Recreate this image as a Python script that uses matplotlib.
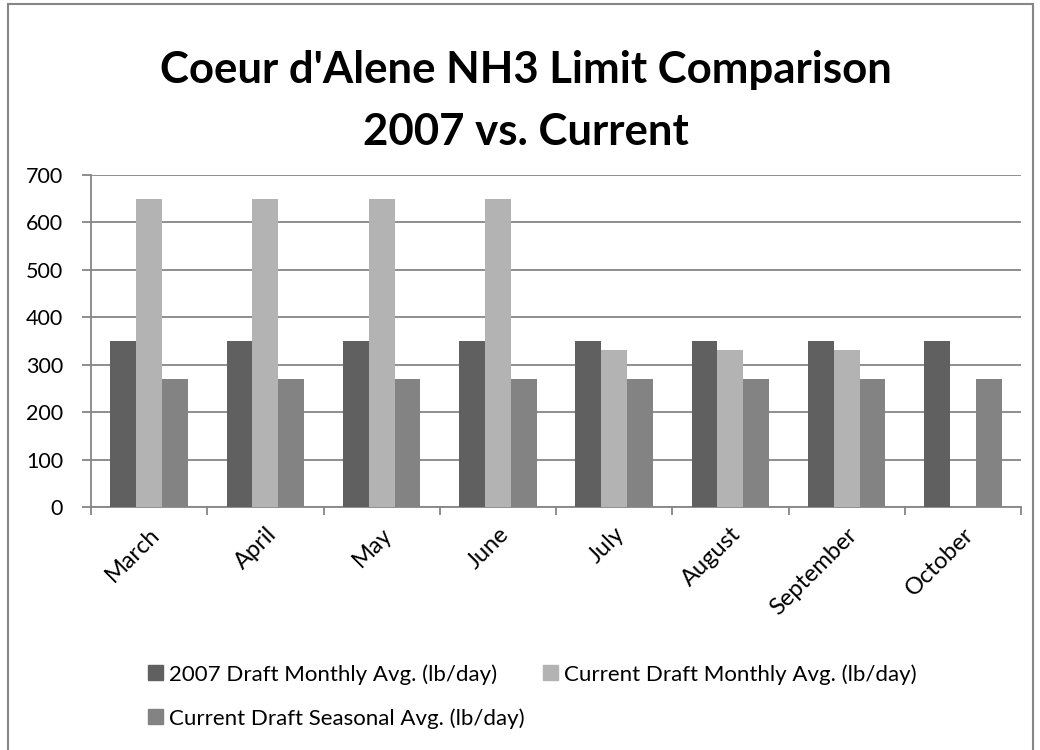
import matplotlib.pyplot as plt
import numpy as np
from matplotlib.patches import Rectangle, Patch
from matplotlib.transforms import ScaledTranslation

plt.rcParams['font.family'] = ['Lato', 'DejaVu Sans']

months = ["March", "April", "May", "June", "July", "August", "September", "October"]
draft_2007 = [350, 350, 350, 350, 350, 350, 350, 350]
current_monthly = [650, 650, 650, 650, 330, 330, 330, 0]
current_seasonal = [270, 270, 270, 270, 270, 270, 270, 270]
series_names = ["2007 Draft Monthly Avg. (lb/day)",
                "Current Draft Monthly Avg. (lb/day)",
                "Current Draft Seasonal Avg. (lb/day)"]
colors = ["#606060", "#b3b3b3", "#838383"]

W, H = 1040, 750
fig = plt.figure(figsize=(W / 100, H / 100), dpi=100)
ax = fig.add_axes([91 / W, 1 - 507 / H, (1021 - 91) / W, (507 - 175) / H])

# outer chart border
fig.patches.append(Rectangle((8 / W, -0.02), (1033 - 8) / W, 1 - 4 / H + 0.02,
                             transform=fig.transFigure, fill=False,
                             edgecolor="#868686", linewidth=1.5))

x = np.arange(len(months))
bw = 1 / 4.5
for i, vals in enumerate([draft_2007, current_monthly, current_seasonal]):
    ax.bar(x + (i - 1) * bw, vals, width=bw, color=colors[i], zorder=3)

ax.set_xlim(-0.5, len(months) - 0.5)
ax.set_ylim(0, 700)
ax.set_yticks(range(0, 701, 100))
ax.yaxis.grid(True, color="#868686", linewidth=1.3, zorder=0)
ax.set_xticks(np.arange(-0.5, len(months), 1))
ax.set_xticklabels([])
ax.set_xticks(x, minor=True)
ax.set_xticklabels(months, minor=True, rotation=45, ha="right",
                   rotation_mode="anchor", fontsize=17)
off = ScaledTranslation(-4 / 100, -4 / 100, fig.dpi_scale_trans)
for lbl in ax.get_xticklabels(minor=True):
    lbl.set_transform(lbl.get_transform() + off)
ax.tick_params(axis="x", which="minor", length=0, pad=12)
ax.tick_params(axis="x", which="major", length=6, color="#868686", width=1.3)
ax.tick_params(axis="y", length=6.5, color="#868686", width=1.3, labelsize=15.5, pad=13.5)
for s in ["top", "right"]:
    ax.spines[s].set_visible(False)
for s in ["left", "bottom"]:
    ax.spines[s].set_color("#868686")
    ax.spines[s].set_linewidth(1.3)

fig.text(0.506, 1 - 70 / H, "Coeur d'Alene NH3 Limit Comparison", ha="center",
         va="center", fontsize=31.5, fontweight="bold")
fig.text(0.506, 1 - 132 / H, "2007 vs. Current", ha="center",
         va="center", fontsize=31.5, fontweight="bold")

handles = [Patch(color=c) for c in colors]
order = [0, 2, 1]
fig.legend([handles[i] for i in order], [series_names[i] for i in order],
           ncol=2, loc="upper left", bbox_to_anchor=(148 / W, 1 - 664 / H),
           frameon=False, fontsize=16, handlelength=0.68, handleheight=0.68,
           handletextpad=0.25, labelspacing=1.05, columnspacing=0.85,
           borderpad=0, borderaxespad=0)

fig.savefig("out.png", dpi=100)
